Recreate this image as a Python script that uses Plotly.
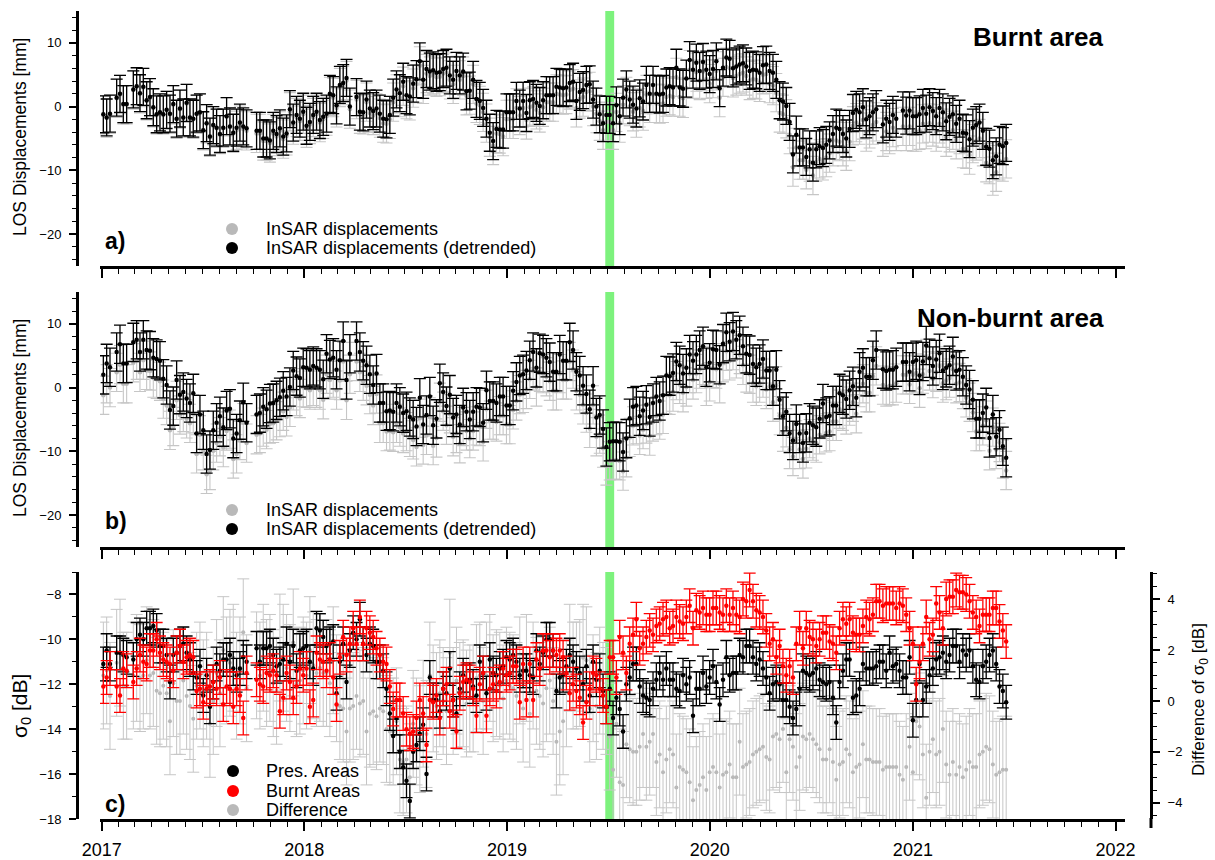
import pandas as pd
import plotly.graph_objects as go

# ---------------- data ----------------
start_date = "2017-01-04"      # first acquisition
step_days = 6                   # Sentinel-1 repeat interval
fire_start = "2019-06-27"
fire_end = "2019-07-13"
x_start = "2016-12-29"
x_end = "2022-01-18"
year_ticks = ["2017", "2018", "2019", "2020", "2021", "2022"]

# Panel a: burnt area LOS displacements [mm]
burnt_detr = [
    -1.2, -1.7, -1.1, None, 1.4, 2.0, 0.4, 0.4, None, 2.7,
    3.2, 2.1, 3.1, 1.0, 1.5, -0.1, -1.2, -0.9, -1.2, -0.5,
    -1.1, 0.4, -1.9, -0.3, -1.7, 0.6, -1.7, -1.9, -1.1, -0.9,
    -3.7, -2.6, -4.7, -2.9, -3.3, -4.3, -3.3, -1.5, -3.1, -4.1,
    -3.3, -2.5, -3.1, -3.4, None, None, -3.8, -3.8, -5.0, -5.0,
    -5.3, -3.8, -4.3, -3.4, -4.7, -4.2, -0.4, -2.5, -1.3, -1.9,
    -0.8, -3.0, -2.4, -1.3, -0.8, -2.1, -1.6, -1.1, 2.0, 1.8,
    0.2, 3.4, 3.7, 4.5, 0.0, None, 1.5, -0.8, -0.9, 1.1,
    -0.3, -0.7, -0.3, -1.1, -1.9, -2.0, -1.3, 1.4, 2.7, 2.1,
    3.9, 1.8, 1.6, 3.6, 4.3, 7.1, 4.2, 5.9, 5.5, 5.7,
    5.3, 5.4, 5.9, 6.1, 4.9, 4.2, 5.6, 4.9, 5.5, 2.4,
    2.5, 4.2, 1.2, 0.9, -0.2, -1.9, -4.1, -5.4, -3.5, -3.6,
    -3.6, -0.9, -0.9, -0.9, 0.9, -0.3, 0.9, -1.0, 1.0, 1.2,
    0.6, 0.1, 1.0, 1.8, 1.8, 1.8, 3.1, 3.0, 2.9, 3.0,
    3.7, 3.9, 0.9, 2.3, 2.6, 3.4, 3.5, 1.1, 0.0, -1.2,
    -2.6, -1.3, -1.3, -2.6, 0.2, -1.5, 1.4, 2.7, 1.1, 0.3,
    -0.3, 1.3, 0.8, 3.4, 2.0, 3.4, 2.0, 1.9, 2.0, 3.0,
    3.2, 3.0, 6.1, 3.0, 2.8, 4.4, 7.3, 5.8, 6.9, 5.6,
    7.0, 5.8, 5.1, 5.9, 7.1, 2.9, 6.1, 7.7, 7.5, 6.0,
    6.3, 6.6, 6.8, 6.3, 5.6, 5.8, 5.7, 5.3, 6.5, 6.6,
    5.6, 5.3, 4.2, 1.0, 0.8, 0.1, -2.4, -7.5, -4.4, -6.4,
    -6.4, -7.9, -6.7, -8.8, -6.7, -6.2, -6.5, -6.0, -5.3, -4.3,
    -3.3, -3.5, -4.3, -5.0, -3.5, -1.0, -0.5, -0.9, -0.1, -2.0,
    -1.5, -0.9, -0.4, None, -2.8, -1.9, -2.4, -1.3, -1.9, None,
    -0.6, -1.4, -0.6, -1.5, -1.5, -1.2, -0.2, -1.1, -0.1, -0.7,
    -1.5, -0.2, -0.9, -2.3, -1.6, -1.2, -2.7, -1.9, -4.1, -4.2,
    -5.1, -3.3, -2.9, -2.5, -3.8, -6.3, -6.6, -8.4, -7.8, -6.0,
    -6.2, -5.7,
]
burnt_raw = [
    -1.3, -1.8, -1.2, None, 1.3, 1.9, 0.3, 0.3, None, 2.6,
    3.1, 2.0, 3.0, 0.9, 1.4, -0.2, -1.3, -1.0, -1.3, -0.6,
    -1.2, 0.3, -2.0, -0.4, -1.8, 0.5, -1.8, -2.0, -1.2, -1.0,
    -3.8, -2.7, -4.8, -3.0, -3.4, -4.4, -3.4, -1.6, -3.2, -4.2,
    -3.7, -2.9, -3.5, -3.8, None, None, -4.2, -4.2, -5.4, -5.4,
    -5.7, -4.2, -4.7, -3.8, -5.1, -4.6, -0.8, -2.9, -1.7, -2.3,
    -1.2, -3.4, -2.8, -1.7, -1.2, -2.5, -2.0, -1.5, 1.6, 1.4,
    -0.2, 3.0, 3.3, 4.1, -0.4, None, 1.1, -1.2, -1.3, 0.7,
    -1.0, -1.4, -1.0, -1.8, -2.6, -2.7, -2.0, 0.7, 2.0, 1.4,
    3.2, 1.1, 0.9, 2.9, 3.6, 6.4, 3.5, 5.2, 4.8, 5.0,
    4.6, 4.7, 5.2, 5.4, 4.2, 3.5, 4.9, 4.2, 4.8, 1.7,
    1.8, 3.5, 0.5, 0.2, -0.9, -2.6, -4.8, -6.1, -4.2, -4.3,
    -4.7, -2.0, -2.0, -2.0, -0.2, -1.4, -0.2, -2.1, -0.1, 0.1,
    -0.5, -1.0, -0.1, 0.7, 0.7, 0.7, 2.0, 1.9, 1.8, 1.9,
    2.6, 2.8, -0.2, 1.2, 1.5, 2.3, 2.4, 0.0, -1.1, -2.3,
    -3.7, -2.4, -2.4, -3.7, -0.9, -2.6, 0.3, 1.6, 0.0, -0.8,
    -1.8, -0.2, -0.7, 1.9, 0.5, 1.9, 0.5, 0.4, 0.5, 1.5,
    1.7, 1.5, 4.6, 1.5, 1.3, 2.9, 5.8, 4.3, 5.4, 4.1,
    5.5, 4.3, 3.6, 4.4, 5.6, 1.4, 4.6, 6.2, 6.0, 4.5,
    4.8, 5.1, 5.3, 4.8, 4.1, 4.3, 4.2, 3.8, 5.0, 5.1,
    3.6, 3.3, 2.2, -1.0, -1.2, -1.9, -4.4, -9.5, -6.4, -8.4,
    -8.4, -9.9, -8.7, -10.8, -8.7, -8.2, -8.5, -8.0, -7.3, -6.3,
    -5.3, -5.5, -6.3, -7.0, -5.5, -3.0, -2.5, -2.9, -2.1, -4.0,
    -3.5, -2.9, -2.4, None, -4.8, -3.9, -4.4, -3.3, -3.9, None,
    -3.1, -3.9, -3.1, -4.0, -4.0, -3.7, -2.7, -3.6, -2.6, -3.2,
    -4.0, -2.7, -3.4, -4.8, -4.1, -3.7, -5.2, -4.4, -6.6, -6.7,
    -7.6, -5.8, -5.4, -5.0, -6.3, -8.8, -9.1, -10.9, -10.3, -8.5,
    -8.7, -8.2,
]
burnt_detr_err = 2.9
burnt_raw_err = 3.0

# Panel b: non-burnt area LOS displacements [mm]
nonburnt_detr = [
    2.0, 3.8, 3.2, None, 5.6, 6.8, 3.8, 3.8, None, 7.1,
    7.5, 5.6, 7.5, 5.9, 5.8, 4.7, 4.5, 4.2, 1.4, 0.4,
    -3.5, -2.9, 1.2, -1.1, -0.7, -1.7, -2.4, -0.9, -7.2, -4.2,
    -6.7, -10.4, -9.8, -6.7, -5.5, -4.5, -6.2, -3.6, -3.3, -8.0,
    -7.2, -5.1, -2.3, -5.5, None, None, -4.2, -4.0, -3.0, -3.4,
    -2.5, -2.4, -2.0, -1.5, -0.5, -1.4, 0.1, 2.7, 1.8, 1.5,
    3.2, 3.1, 2.8, 3.4, 3.1, 2.8, 1.3, 5.3, 4.4, 4.7,
    2.8, 4.3, 7.3, 1.2, 5.3, None, 7.3, 5.6, 4.2, 3.5,
    2.1, 0.4, 2.2, -2.4, -2.4, -3.7, -3.6, -3.8, -2.4, -3.0,
    -4.0, -3.7, -4.6, -5.0, -6.1, -1.6, -5.8, -4.3, -1.4, -5.9,
    -4.9, 0.7, -0.7, -2.9, -1.1, -4.7, -4.2, -5.8, -3.1, -3.8,
    -5.0, -3.8, -3.0, -3.1, -5.5, -0.4, -2.1, -2.1, -2.4, -1.4,
    -1.4, -2.8, -2.8, -0.5, 0.9, 1.9, 2.1, 2.7, 4.3, 5.6,
    3.1, 5.4, 5.2, 4.7, 4.0, 2.5, 2.5, 5.2, 4.2, 4.2,
    7.1, 5.9, 2.5, 1.9, 0.3, -1.0, -3.4, 0.3, -4.7, -4.3,
    -6.5, -9.3, -8.5, -8.4, -8.4, -8.5, -10.1, -8.0, -4.8, -3.0,
    -2.8, -4.5, -3.6, -2.7, -4.6, -2.4, -1.4, -2.1, -1.2, 1.9,
    1.8, 2.3, 4.1, 3.5, 2.2, 3.1, 5.2, 4.2, 5.2, 5.9,
    6.5, 3.2, 3.9, 6.0, 5.9, 3.6, 6.9, 8.7, 7.2, 8.8,
    7.5, 8.2, 6.5, 5.3, 5.1, 3.7, 3.2, 3.7, 4.5, 2.7,
    2.7, 0.2, 2.8, -1.9, -4.5, -3.8, -7.2, -8.3, -5.7, -7.2,
    -8.7, -7.1, -5.5, -5.9, -6.2, -4.9, -2.5, -4.6, -4.4, -2.8,
    -2.8, -0.9, -1.2, -1.8, -0.4, 0.2, -1.6, 2.5, 3.1, 1.7,
    1.7, 4.3, 5.9, None, 2.9, 2.6, 2.8, 2.8, 3.2, None,
    4.0, 4.0, 2.5, 4.0, 4.3, 1.9, 4.1, 6.6, 4.6, 3.4,
    4.4, 5.4, 2.7, 3.1, 3.5, 4.9, 2.6, 2.8, 1.7, 0.4,
    -0.3, -1.9, -4.9, -4.9, -4.0, -3.1, -7.9, -4.2, -7.7, -6.6,
    -9.2, -11.0,
]
nonburnt_raw = [
    -1.2, 0.6, 0.0, None, 2.4, 3.6, 0.6, 0.6, None, 3.9,
    4.3, 2.4, 4.3, 2.7, 2.6, 1.5, 1.3, 1.0, -1.8, -2.8,
    -6.7, -6.1, -2.0, -4.3, -3.9, -4.9, -5.6, -4.1, -10.4, -7.4,
    -9.9, -13.6, -13.0, -9.9, -8.7, -7.7, -9.4, -6.8, -6.5, -11.2,
    -10.4, -8.3, -5.5, -8.7, None, None, -7.4, -7.2, -6.2, -6.6,
    -5.7, -5.6, -5.2, -4.7, -3.7, -4.6, -3.1, -0.5, -1.4, -1.7,
    0.0, -0.1, -0.4, 0.2, -0.1, -0.4, -1.9, 2.1, 1.2, 1.5,
    -0.4, 1.1, 4.1, -2.0, 2.1, None, 4.1, 2.4, 1.0, 0.3,
    -1.1, -2.8, -1.0, -5.6, -5.6, -6.9, -6.8, -7.0, -5.6, -6.2,
    -7.2, -6.9, -7.8, -8.2, -9.3, -4.8, -9.0, -7.5, -4.6, -9.1,
    -7.9, -2.3, -3.7, -5.9, -4.1, -7.7, -7.2, -8.8, -6.1, -6.8,
    -8.0, -6.8, -6.0, -6.1, -8.5, -3.4, -5.1, -5.1, -5.4, -4.4,
    -4.4, -5.8, -5.8, -3.5, -2.1, -1.1, -0.9, -0.3, 1.3, 2.6,
    0.1, 2.4, 2.2, 1.7, 1.0, -0.5, -0.5, 2.2, 1.2, 1.2,
    4.1, 2.9, -0.5, -1.1, -2.7, -4.0, -6.4, -2.7, -7.7, -7.3,
    -9.5, -12.3, -11.5, -11.4, -11.4, -11.5, -13.1, -11.0, -7.8, -6.0,
    -5.8, -7.5, -6.6, -5.7, -7.6, -5.4, -4.4, -5.1, -4.2, -1.1,
    -1.2, -0.7, 1.1, 0.5, -0.8, 0.1, 2.2, 1.2, 2.2, 2.9,
    3.5, 0.2, 0.9, 3.0, 2.9, 0.6, 3.9, 5.7, 4.2, 5.8,
    4.5, 5.2, 3.5, 2.3, 2.1, 0.7, 0.2, 0.7, 1.5, -0.3,
    0.2, -2.3, 0.3, -4.4, -7.0, -6.3, -9.7, -10.8, -8.2, -9.7,
    -11.2, -9.6, -8.0, -8.4, -8.7, -7.4, -5.0, -7.1, -6.9, -5.3,
    -5.3, -3.4, -3.7, -4.3, -2.9, -2.3, -4.1, 0.0, 0.6, -0.8,
    -0.8, 1.8, 3.4, None, 0.4, 0.1, 0.3, 0.3, 0.7, None,
    2.0, 2.0, 0.5, 2.0, 2.3, -0.1, 2.1, 4.6, 2.6, 1.4,
    2.4, 3.4, 0.7, 1.1, 1.5, 2.9, 0.6, 0.8, -0.3, -1.6,
    -2.3, -3.9, -6.9, -6.9, -6.0, -5.1, -9.9, -6.2, -9.7, -8.6,
    -11.2, -13.0,
]
nonburnt_detr_err = 3.0
nonburnt_raw_err = 3.0

# Panel c: backscatter sigma0 [dB]
sigma_pres = [
    -11.1, -10.5, -11.1, None, -10.6, -10.6, -10.7, -10.8, None, -10.9,
    -10.0, -9.8, -10.0, -9.5, -9.5, -9.4, -9.6, -10.3, -10.3, -10.7,
    -11.9, -10.7, -10.6, -10.3, -10.2, -10.6, -10.9, -11.5, -11.7, -11.2,
    -12.5, -11.6, -13.0, -11.9, -11.1, -11.4, -10.9, -10.9, -10.7, -11.3,
    -11.6, -11.3, -10.8, -11.0, None, None, -10.4, -11.0, -10.4, -10.4,
    -10.3, -10.7, -11.2, -11.1, -10.9, -10.2, -11.0, -10.3, -11.4, -10.5,
    -10.4, -10.3, -11.0, -11.3, -9.5, -9.6, -9.9, -10.3, -10.2, -10.1,
    -12.4, -11.0, -10.2, -11.9, -10.5, -9.7, -10.0, -9.1, -10.2, -10.7,
    -10.2, -10.3, -11.0, -11.0, -11.4, -12.2, -13.3, -14.3, -13.5, -15.0,
    -15.7, -16.3, -17.2, -15.0, -14.7, -14.2, -13.8, -16.0, -11.7, -12.7,
    -12.7, -13.2, -12.2, -12.4, -11.3, -12.7, -13.3, -12.2, -11.6, -11.9,
    -11.8, -12.1, -12.5, -11.0, -11.5, -12.4, -10.9, -11.5, -11.6, -11.3,
    -11.2, -10.8, -10.9, -10.7, -11.0, -11.6, -11.4, -11.4, -11.6, -11.7,
    -10.5, -11.1, -10.6, -10.0, -10.0, -10.5, -12.3, -11.7, -11.6, -11.2,
    -10.7, -11.0, -11.3, -11.5, -12.0, -11.2, -12.5, -11.0, -11.8, -11.4,
    -12.3, -13.0, -12.2, -13.5, -12.6, -13.1, -14.1, -12.0, -11.7, -11.1,
    -11.1, -12.1, -12.5, -12.6, -12.7, -12.2, -11.8, -11.5, -11.8, -11.3,
    -11.8, -11.8, -12.2, -12.3, -11.6, -12.0, -11.7, -13.4, -12.2, -12.2,
    -11.5, -12.1, -11.7, -11.2, -11.9, -12.9, -11.8, -10.8, -11.6, -11.5,
    -11.5, -10.7, -10.8, -10.3, -10.3, -10.8, -11.1, -10.9, -11.3, -11.7,
    -12.4, -12.0, -11.9, -12.0, -12.7, -12.7, -13.0, -13.5, -13.1, -12.2,
    -11.4, -11.5, -11.6, -11.5, -11.3, -11.8, -11.9, -12.0, -11.9, -12.6,
    -13.7, -11.9, -11.4, -10.9, -10.9, -12.6, -12.5, -12.2, -11.1, -11.3,
    -11.3, -11.3, -11.2, -11.0, -11.0, -11.4, -10.6, -11.2, -11.1, -11.4,
    -11.7, -11.7, -10.8, -13.6, -12.7, -11.1, -12.7, -12.1, -11.6, -11.3,
    -10.9, -10.8, -10.6, -11.0, -10.7, -10.3, -10.3, -11.0, -10.5, -10.7,
    -10.5, -11.2, -11.8, -11.9, -11.2, -11.0, -10.7, -10.5, -11.1, -12.1,
    -12.3, -12.8,
]
sigma_burnt = [
    -12.1, -11.7, -11.3, None, -12.1, -12.5, -11.3, -11.4, None, -11.9,
    -11.3, -10.7, -11.0, -11.1, -10.5, -10.5, -10.0, -10.6, -10.9, -11.0,
    -11.1, -11.4, -10.6, -10.3, -11.0, -10.8, -10.7, -10.8, -12.3, -12.2,
    -12.8, -12.2, -12.1, -11.9, -12.2, -11.7, -12.9, -12.1, -12.2, -13.0,
    -12.2, -12.5, -13.5, -11.5, None, None, -11.8, -12.0, -12.1, -11.5,
    -11.6, -11.4, -11.6, -13.2, -12.6, -11.5, -11.9, -12.6, -12.1, -11.3,
    -11.6, -11.3, -13.0, -12.7, -10.6, -10.9, -11.0, -11.4, -10.9, -11.7,
    -12.9, -10.8, -9.9, -10.7, -10.2, -9.5, -10.2, -9.0, -10.2, -9.5,
    -9.7, -9.9, -10.4, -10.7, -11.0, -11.1, -12.1, -13.1, -12.7, -12.7,
    -13.3, -14.0, -14.2, -14.1, -13.5, -12.7, -13.3, -14.7, -12.7, -12.8,
    -12.5, -13.5, -12.2, -12.0, -13.2, -12.7, -14.1, -12.4, -11.9, -11.8,
    -11.9, -12.2, -13.4, -12.0, -11.5, -13.4, -12.2, -12.0, -12.3, -11.9,
    -11.3, -11.6, -11.5, -11.2, -11.2, -12.8, -11.1, -12.7, -11.1, -12.7,
    -10.9, -11.3, -10.5, -10.5, -10.8, -10.5, -10.7, -10.5, -10.8, -11.5,
    -12.4, -12.0, -12.3, -12.6, -13.7, -12.8, -12.2, -11.5, -11.6, -12.2,
    -12.5, -13.0, -10.8, -10.8, -11.7, -9.9, -10.6, -11.5, -10.2, -9.8,
    -9.1, -10.4, -10.2, -9.9, -9.6, -9.8, -9.4, -9.3, -9.1, -9.0,
    -9.5, -9.4, -9.0, -9.2, -9.3, -9.0, -8.5, -9.5, -8.7, -8.8,
    -8.6, -8.9, -8.9, -8.6, -8.6, -8.8, -8.9, -8.5, -8.9, -8.6,
    -8.9, -9.0, -8.2, -8.3, -7.8, -8.3, -8.7, -8.8, -9.0, -9.6,
    -10.2, -10.0, -10.8, -10.3, -11.2, -11.6, -11.2, -11.7, -10.2, -9.5,
    -10.4, -9.5, -9.9, -10.0, -10.3, -10.0, -9.7, -9.7, -10.1, -10.2,
    -10.6, -9.5, -9.1, -9.3, -9.1, -9.7, -9.8, -9.8, -9.4, -9.0,
    -9.1, -8.9, -8.3, -8.3, -8.5, -8.4, -8.4, -8.4, -8.6, -8.4,
    -8.5, -8.9, -9.5, -10.2, -12.0, -11.0, -10.2, -9.0, -10.0, -9.8,
    -8.4, -8.8, -9.5, -8.2, -8.1, -8.1, -7.8, -7.9, -7.9, -8.0,
    -8.3, -8.8, -9.0, -9.4, -8.9, -8.9, -8.9, -8.6, -8.6, -9.2,
    -9.6, -10.1,
]
sigma_diff = [
    1.0, 1.2, 0.2, None, 1.5, 1.9, 0.6, 0.6, None, 1.0,
    1.3, 0.9, 1.0, 1.6, 1.0, 1.1, 0.4, 0.3, 0.6, 0.3,
    -0.8, 0.7, 0.0, 0.0, 0.8, 0.2, -0.2, -0.7, 0.6, 1.0,
    0.3, 0.6, -0.9, 0.0, 1.1, 0.3, 2.0, 1.2, 1.5, 1.7,
    0.6, 1.2, 2.7, 0.5, None, None, 1.4, 1.0, 1.7, 1.1,
    1.3, 0.7, 0.4, 2.1, 1.7, 1.3, 0.9, 2.3, 0.7, 0.8,
    1.2, 1.0, 2.0, 1.4, 1.1, 1.3, 1.1, 1.1, 0.7, 1.6,
    0.5, -0.2, -0.3, -1.2, -0.3, -0.2, 0.2, -0.1, 0.0, -1.2,
    -0.5, -0.4, -0.6, -0.3, -0.4, -1.1, -1.2, -1.2, -0.8, -2.3,
    -2.4, -2.3, -3.0, -0.9, -1.2, -1.5, -0.5, -1.3, 1.0, 0.1,
    -0.2, 0.3, 0.0, -0.4, 1.9, 0.0, 0.8, 0.2, 0.3, -0.1,
    0.1, 0.1, 0.9, 1.0, 0.0, 1.0, 1.3, 0.5, 0.7, 0.6,
    0.1, 0.8, 0.6, 0.5, 0.2, 1.2, -0.3, 1.3, -0.5, 1.0,
    0.4, 0.2, -0.1, 0.5, 0.8, 0.0, -1.6, -1.2, -0.8, 0.3,
    1.7, 1.0, 1.0, 1.1, 1.7, 1.6, -0.3, 0.5, -0.2, 0.8,
    0.2, 0.0, -1.4, -2.7, -0.9, -3.2, -3.3, -1.7, -1.9, -2.0,
    -2.0, -1.8, -1.3, -1.8, -1.6, -1.3, -2.4, -2.1, -2.8, -2.3,
    -1.9, -2.1, -3.4, -2.6, -2.7, -2.8, -3.2, -3.9, -3.5, -3.3,
    -3.0, -3.5, -2.8, -2.6, -2.8, -3.4, -2.9, -2.8, -2.5, -3.0,
    -3.0, -1.6, -2.6, -2.5, -2.4, -2.1, -2.0, -1.9, -1.8, -2.2,
    -2.3, -1.4, -1.3, -1.5, -1.1, -2.8, -1.5, -1.8, -2.6, -2.2,
    -1.4, -1.5, -1.3, -1.5, -1.7, -1.9, -2.3, -2.3, -1.9, -2.4,
    -3.1, -2.5, -2.4, -1.9, -2.1, -2.8, -2.6, -2.5, -1.7, -2.3,
    -2.3, -2.4, -2.4, -2.4, -2.7, -2.6, -2.6, -2.6, -2.6, -2.9,
    -3.1, -2.6, -1.8, -2.8, -0.8, -1.0, -2.1, -3.8, -2.0, -1.5,
    -2.1, -2.0, -1.1, -2.5, -2.9, -2.4, -2.9, -2.6, -3.0, -2.7,
    -2.4, -2.6, -2.6, -2.1, -2.0, -1.8, -1.9, -2.5, -2.9, -2.8,
    -2.7, -2.7,
]
sigma_pres_err = 0.75
sigma_burnt_err = 0.75
sigma_diff_err = 2.1

for arr in (burnt_raw, nonburnt_detr, nonburnt_raw, sigma_pres, sigma_burnt, sigma_diff):
    assert len(arr) == len(burnt_detr), len(arr)

dates = pd.date_range(start_date, periods=len(burnt_detr), freq=f"{step_days}D")
year_dates = [f"{y}-01-01" for y in year_ticks]

# ---------------- figure ----------------
W, H = 1215, 860
FONT = "Liberation Sans, Arial, Helvetica, sans-serif"
GRAY_M = "#b9b9b9"
GRAY_E = "#c6c6c6"
RED = "#ff0000"


def px(p):
    return p / W


def py(p):
    return 1 - p / H


def series(y, err, color, ecolor, xa, ya, size=4.5, thick=1.3):
    return go.Scatter(
        x=dates, y=y, mode="markers",
        marker=dict(color=color, size=size, line=dict(width=0)),
        error_y=dict(type="constant", value=err, color=ecolor,
                     thickness=thick, width=6),
        xaxis=xa, yaxis=ya, showlegend=False, hoverinfo="skip",
    )


fig = go.Figure()
fig.add_trace(series(burnt_raw, burnt_raw_err, GRAY_M, GRAY_E, "x", "y", thick=1.1))
fig.add_trace(series(burnt_detr, burnt_detr_err, "black", "black", "x", "y"))
fig.add_trace(series(nonburnt_raw, nonburnt_raw_err, GRAY_M, GRAY_E, "x2", "y2", thick=1.1))
fig.add_trace(series(nonburnt_detr, nonburnt_detr_err, "black", "black", "x2", "y2"))
fig.add_trace(series(sigma_diff, sigma_diff_err, GRAY_M, GRAY_E, "x3", "y3", size=4, thick=1.0))
fig.add_trace(series(sigma_pres, sigma_pres_err, "black", "black", "x3", "y4"))
fig.add_trace(series(sigma_burnt, sigma_burnt_err, RED, RED, "x3", "y4"))

XDOM = [px(100), px(1125)]
DOM_A = [py(266), py(11)]
DOM_B = [py(547), py(292)]
DOM_C = [py(819), py(572)]


def xaxis(anchor, labels):
    return dict(
        type="date", range=[x_start, x_end], domain=XDOM, anchor=anchor,
        automargin=False,
        showline=True, linecolor="black", linewidth=3, mirror=False,
        ticks="outside", ticklen=9, tickwidth=2, tickcolor="black",
        tickmode="array", tickvals=year_dates, ticktext=year_ticks,
        showticklabels=labels, tickfont=dict(size=18, color="black"),
        ticklabelstandoff=3,
        minor=dict(ticks="outside", ticklen=5, tickwidth=1.2, tickcolor="black",
                   dtick="M1", tick0="2017-01-01", showgrid=False),
        showgrid=False, zeroline=False,
    )


def yaxis(dom, rng, dtick, mdtick, pos, side="left", ticks="outside", **kw):
    d = dict(
        domain=dom, range=rng, anchor="free", position=pos, side=side,
        automargin=False,
        showline=True, linecolor="black", linewidth=3,
        ticks=ticks, ticklen=7, tickwidth=1.5, tickcolor="black",
        dtick=dtick, tick0=0, tickfont=dict(size=13, color="black"),
        ticklabelstandoff=5,
        minor=dict(ticks=ticks, ticklen=4, tickwidth=1.2, tickcolor="black",
                   dtick=mdtick, tick0=0, showgrid=False),
        showgrid=False, zeroline=False,
    )
    d.update(kw)
    return d


fig.update_layout(
    width=W, height=H, margin=dict(l=0, r=0, t=0, b=0, autoexpand=False),
    paper_bgcolor="white", plot_bgcolor="white", showlegend=False,
    font=dict(family=FONT, color="black"),
    xaxis=xaxis("y", False),
    xaxis2=xaxis("y2", False),
    xaxis3=xaxis("y3", True),
    yaxis=yaxis(DOM_A, [-25, 15], 10, 2, px(77)),
    yaxis2=yaxis(DOM_B, [-25, 15], 10, 2, px(77)),
    yaxis3=yaxis(DOM_C, [-4.64, 5.07], 2, 0.5, px(1151), side="right"),
    yaxis4=yaxis(DOM_C, [-18, -7], 2, 1, px(77), overlaying="y3"),
)

shapes = []
for xr, yr in (("x", "y domain"), ("x2", "y2 domain"), ("x3", "y3 domain")):
    shapes.append(dict(type="rect", xref=xr, yref=yr, x0=fire_start, x1=fire_end,
                       y0=0, y1=1, fillcolor="#7df27d", line=dict(width=0),
                       layer="below"))
# right axis line continues slightly below the panel, as in the original
shapes.append(dict(type="line", xref="paper", yref="paper", x0=px(1151), x1=px(1151),
                   y0=py(818), y1=py(828), line=dict(color="black", width=3)))


def dot(xp, yp, color, r=6):
    return dict(type="circle", xref="paper", yref="paper",
                xsizemode="pixel", ysizemode="pixel",
                xanchor=px(xp), yanchor=py(yp),
                x0=-r, x1=r, y0=-r, y1=r, fillcolor=color, line=dict(width=0))


legend_a = [("InSAR displacements", GRAY_M), ("InSAR displacements (detrended)", "black")]
legend_c = [("Pres. Areas", "black"), ("Burnt Areas", RED), ("Difference", GRAY_M)]

annotations = []
for (label, color), yy in zip(legend_a, (229, 248)):
    shapes.append(dot(232, yy, color))
    annotations.append(dict(text=label, x=px(264), y=py(yy), xanchor="left",
                            yanchor="middle", font=dict(size=18)))
for (label, color), yy in zip(legend_a, (510, 529)):
    shapes.append(dot(232, yy, color))
    annotations.append(dict(text=label, x=px(264), y=py(yy), xanchor="left",
                            yanchor="middle", font=dict(size=18)))
for (label, color), yy in zip(legend_c, (771, 791, 810)):
    shapes.append(dot(233, yy, color))
    annotations.append(dict(text=label, x=px(264), y=py(yy), xanchor="left",
                            yanchor="middle", font=dict(size=18)))

for lab, yy in (("a)", 241), ("b)", 521), ("c)", 804)):
    annotations.append(dict(text=f"<b>{lab}</b>", x=px(103), y=py(yy), xanchor="left",
                            yanchor="middle", font=dict(size=23)))

annotations.append(dict(text="<b>Burnt area</b>", x=px(1106), y=py(37), xanchor="right",
                        yanchor="middle", font=dict(size=26)))
annotations.append(dict(text="<b>Non-burnt area</b>", x=px(1106), y=py(318), xanchor="right",
                        yanchor="middle", font=dict(size=26)))

annotations.append(dict(text="LOS Displacements [mm]", x=px(20), y=py(137), textangle=-90,
                        xanchor="center", yanchor="middle", font=dict(size=17.5)))
annotations.append(dict(text="LOS Displacements [mm]", x=px(20), y=py(418), textangle=-90,
                        xanchor="center", yanchor="middle", font=dict(size=17.5)))
annotations.append(dict(text="σ<sub>0</sub> [dB]", x=px(21), y=py(706), textangle=-90,
                        xanchor="center", yanchor="middle", font=dict(size=21)))
annotations.append(dict(text="Difference of σ<sub>0</sub> [dB]", x=px(1200), y=py(700),
                        textangle=-90, xanchor="center", yanchor="middle",
                        font=dict(size=17)))

for a in annotations:
    a.update(xref="paper", yref="paper", showarrow=False)

fig.update_layout(shapes=shapes, annotations=annotations)
fig.write_html("out.html")
